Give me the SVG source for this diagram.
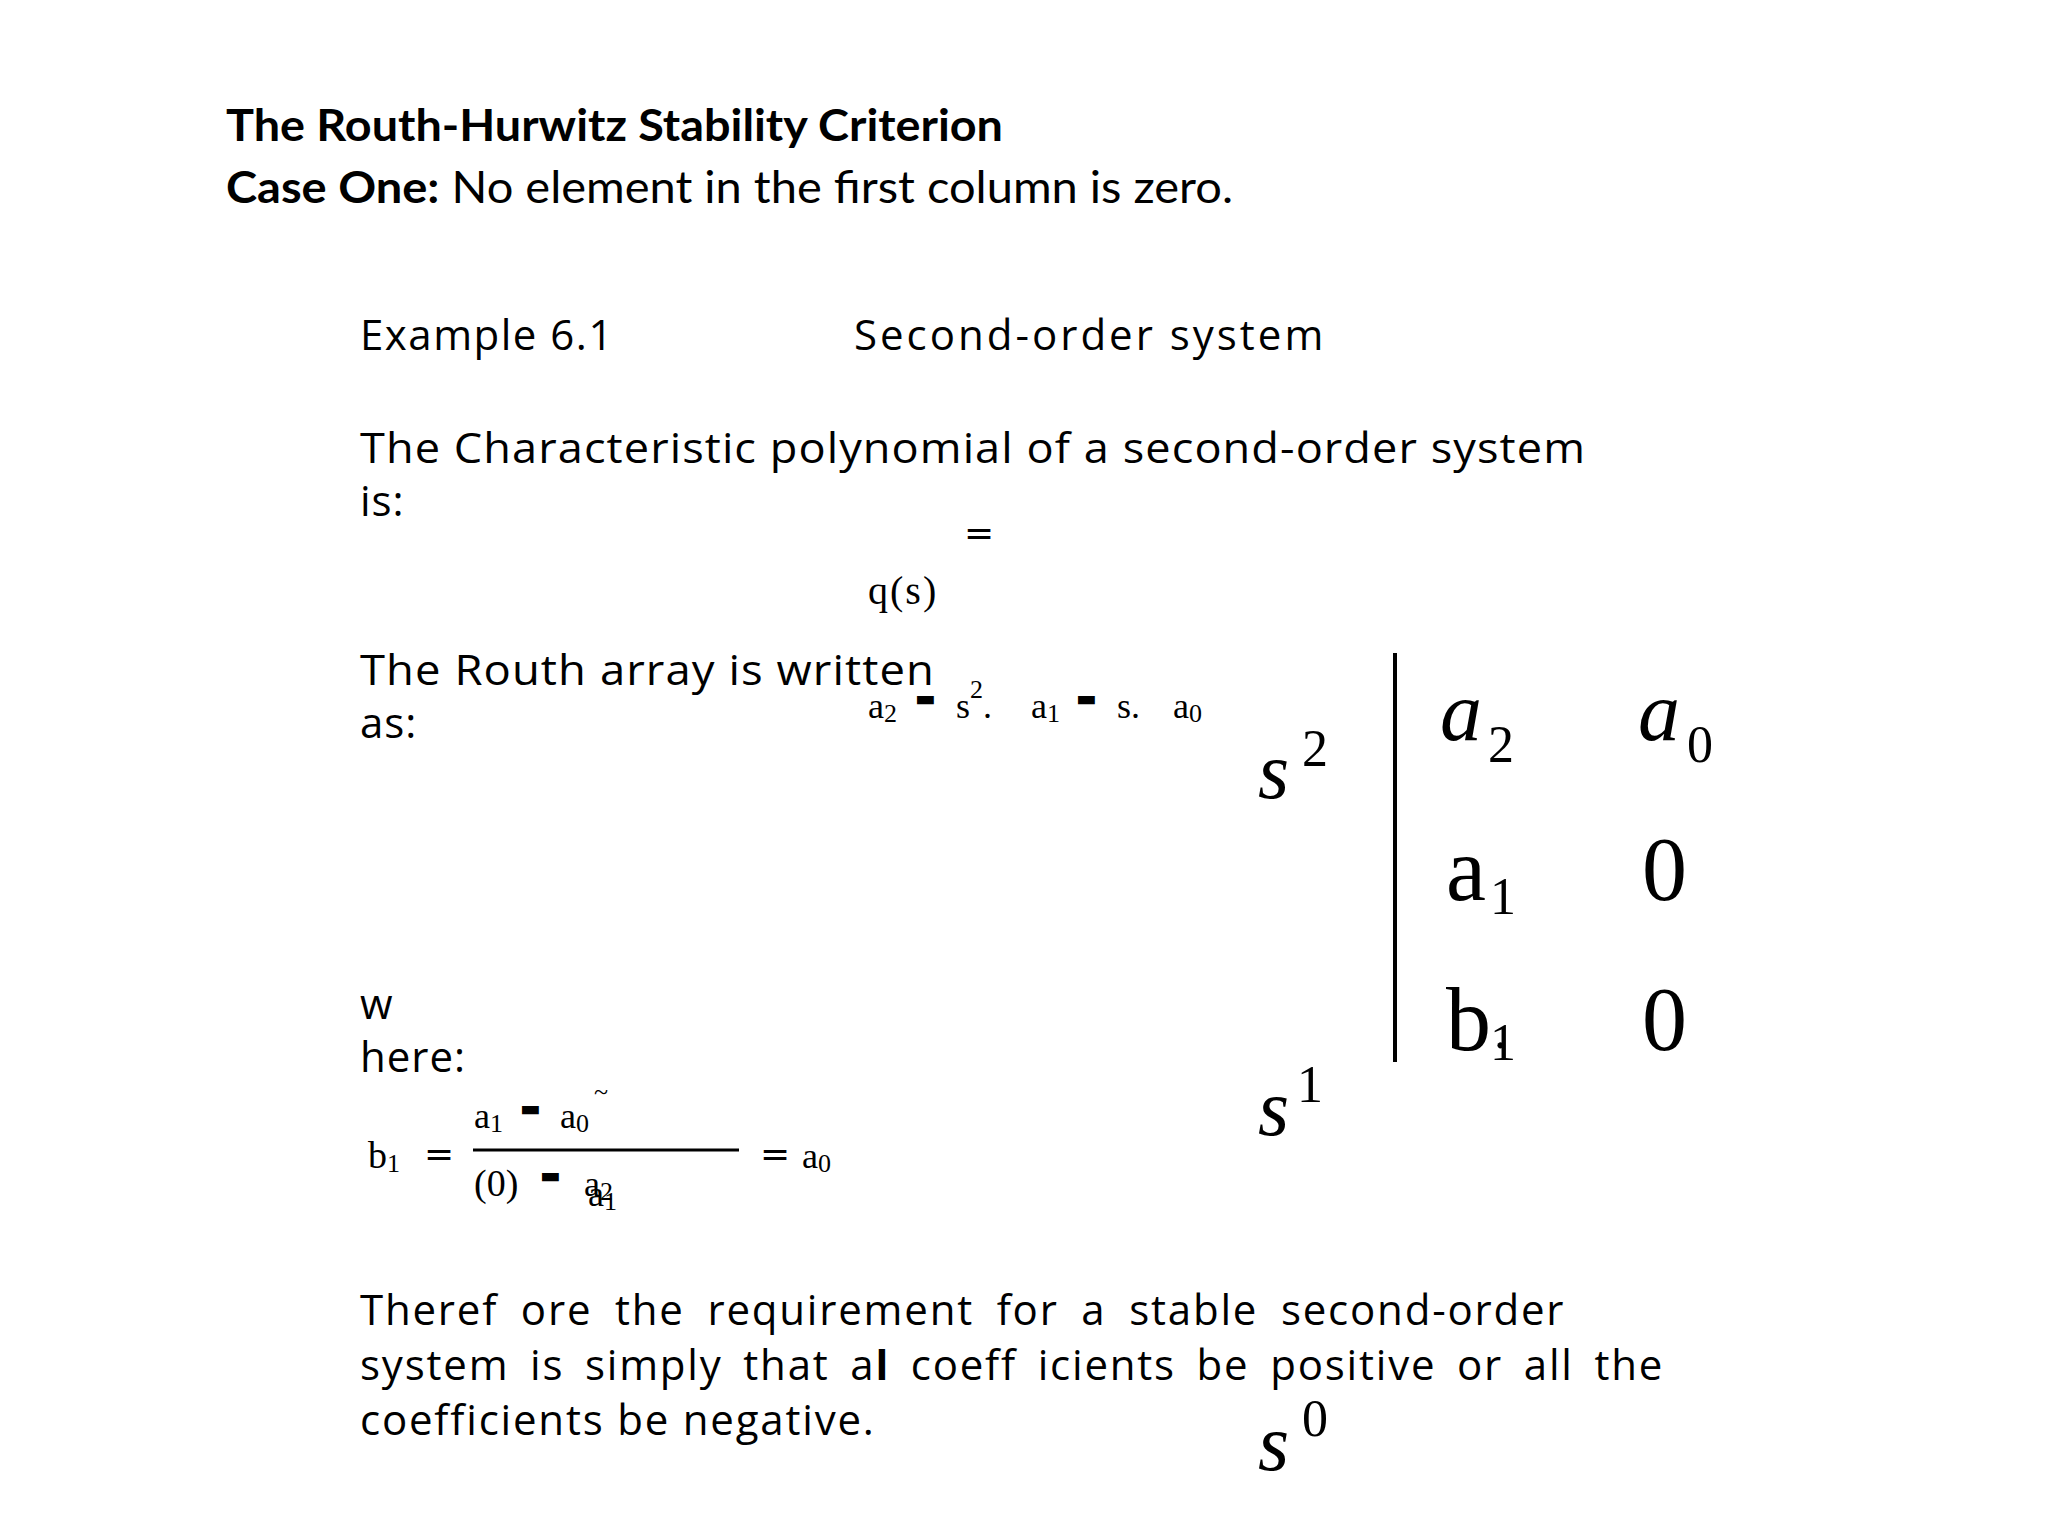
<svg xmlns="http://www.w3.org/2000/svg" width="2048" height="1536" viewBox="0 0 2048 1536">
<style>
.h{font-family:Lato,"Open Sans",sans-serif;font-size:44px;fill:#000}
.b{font-family:"Open Sans","Noto Sans",sans-serif;font-size:42px;fill:#000;letter-spacing:1px}
.m{font-family:"Liberation Serif",serif;fill:#000}
.d{font-family:"DejaVu Sans",sans-serif;fill:#000}
</style>
<rect width="2048" height="1536" fill="#fff"/>
<g id="title">
<text class="h" x="226" y="141" font-weight="bold" textLength="777" lengthAdjust="spacingAndGlyphs">The Routh-Hurwitz Stability Criterion</text>
<text class="h" x="226" y="203" textLength="1007" lengthAdjust="spacingAndGlyphs"><tspan font-weight="bold">Case One:</tspan> No element in the first column is zero.</text>
</g>
<g id="body">
<text class="b" x="360" y="350" style="letter-spacing:1.5px">Example 6.1</text>
<text class="b" x="854" y="350" style="letter-spacing:3px">Second-order system</text>
<text class="b" x="360" y="463" textLength="1226" lengthAdjust="spacingAndGlyphs">The Characteristic polynomial of a second-order system</text>
<text class="b" x="360" y="516">is:</text>
<text class="b" x="360" y="685" textLength="575" lengthAdjust="spacingAndGlyphs">The Routh array is written</text>
<text class="b" x="360" y="738">as:</text>
<text class="b" x="360" y="1019">w</text>
<text class="b" x="360" y="1072">here:</text>
<text class="b" x="360" y="1325" style="letter-spacing:1.8px;word-spacing:10px">Theref  ore  the  requirement  for  a  stable  second-order</text>
<text class="b" x="360" y="1380" style="letter-spacing:1.8px;word-spacing:8px">system is  simply that a<tspan font-weight="bold">l</tspan> coeff  icients be positive or all the</text>
<text class="b" x="360" y="1435" style="letter-spacing:1.8px">coefficients be  negative.</text>
</g>
<g id="poly">
<text class="d" x="964" y="545" font-size="36">=</text>
<text class="m" x="868" y="604" font-size="40" letter-spacing="2">q(s)</text>
<text class="m" x="868" y="718" font-size="36">a<tspan font-size="26" dy="4">2</tspan></text>
<text class="d" x="915" y="706" font-size="22">▬</text>
<text class="m" x="956" y="718" font-size="36">s<tspan font-size="26" dy="-20">2</tspan><tspan dy="20">.</tspan></text>
<text class="m" x="1031" y="718" font-size="36">a<tspan font-size="26" dy="4">1</tspan></text>
<text class="d" x="1076" y="706" font-size="22">▬</text>
<text class="m" x="1117" y="718" font-size="36">s.</text>
<text class="m" x="1173" y="718" font-size="36">a<tspan font-size="26" dy="4">0</tspan></text>
</g>
<g id="b1eq">
<text class="m" x="368" y="1168" font-size="38">b<tspan font-size="26" dy="4">1</tspan></text>
<text class="d" x="424" y="1166" font-size="36">=</text>
<text class="m" x="474" y="1128" font-size="36">a<tspan font-size="26" dy="4">1</tspan></text>
<text class="d" x="520" y="1116" font-size="22">▬</text>
<text class="m" x="560" y="1128" font-size="36">a<tspan font-size="26" dy="4">0</tspan></text>
<text class="m" x="594" y="1100" font-size="26">~</text>
<line x1="473" y1="1150" x2="739" y2="1150" stroke="#000" stroke-width="3"/>
<text class="m" x="474" y="1196" font-size="38">(0)</text>
<text class="d" x="540" y="1183" font-size="22">▬</text>
<text class="m" x="584" y="1196" font-size="36">a<tspan font-size="26" dy="4">2</tspan></text>
<text class="m" x="588" y="1206" font-size="36">a<tspan font-size="26" dy="4">1</tspan></text>
<text class="d" x="760" y="1166" font-size="36">=</text>
<text class="m" x="802" y="1168" font-size="36">a<tspan font-size="26" dy="4">0</tspan></text>
</g>
<g id="routh">
<text class="m" x="1258" y="798" font-size="80" font-style="italic">s</text>
<text class="m" x="1302" y="766" font-size="52">2</text>
<text class="m" x="1258" y="1135" font-size="80" font-style="italic">s</text>
<text class="m" x="1297" y="1102" font-size="52">1</text>
<text class="m" x="1258" y="1470" font-size="80" font-style="italic">s</text>
<text class="m" x="1302" y="1436" font-size="52">0</text>
<line x1="1395" y1="653" x2="1395" y2="1062" stroke="#000" stroke-width="4"/>
<text class="m" x="1440" y="740" font-size="84" font-style="italic">a</text>
<text class="m" x="1488" y="762" font-size="52">2</text>
<text class="m" x="1638" y="740" font-size="84" font-style="italic">a</text>
<text class="m" x="1687" y="762" font-size="52">0</text>
<text class="m" x="1446" y="900" font-size="90">a</text>
<text class="m" x="1490" y="914" font-size="52">1</text>
<text class="m" x="1642" y="900" font-size="90">0</text>
<text class="m" x="1446" y="1050" font-size="90">b</text>
<text class="m" x="1490" y="1060" font-size="52">1</text>
<text class="m" x="1494" y="1048" font-size="52">.</text>
<text class="m" x="1642" y="1050" font-size="90">0</text>
</g>
</svg>
